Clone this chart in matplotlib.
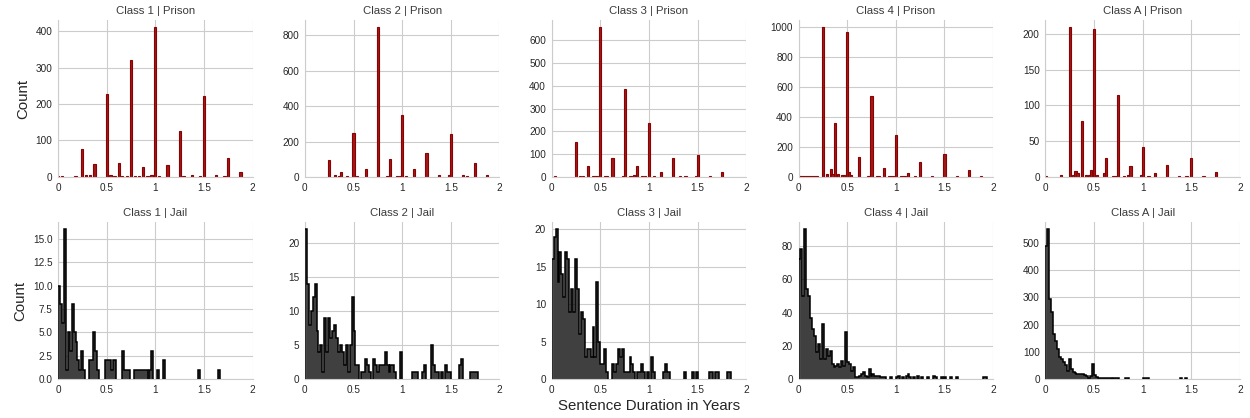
import numpy as np
import matplotlib
matplotlib.use("Agg")
from matplotlib import pyplot as plt
from matplotlib.ticker import MultipleLocator, FuncFormatter

# panel titles
classes = ['Class 1', 'Class 2', 'Class 3', 'Class 4', 'Class A']

# prison: spike positions (years) and counts
prison_x = [
    [0.0, 0.04, 0.18, 0.25, 0.29, 0.33, 0.375, 0.5, 0.54, 0.58, 0.625, 0.66, 0.71, 0.75, 0.79, 0.83,
     0.875, 0.92, 0.96, 1.0, 1.04, 1.125, 1.25, 1.29, 1.375, 1.46, 1.5, 1.625, 1.71, 1.75, 1.875],
    [0.25, 0.31, 0.35, 0.375, 0.43, 0.5, 0.54, 0.625, 0.75, 0.85, 0.875, 0.95, 0.98, 1.0, 1.04,
     1.125, 1.25, 1.375, 1.48, 1.5, 1.625, 1.67, 1.75, 1.875],
    [0.03, 0.25, 0.29, 0.32, 0.375, 0.43, 0.46, 0.5, 0.55, 0.57, 0.625, 0.73, 0.75, 0.81, 0.85,
     0.875, 0.93, 0.96, 1.0, 1.05, 1.125, 1.25, 1.32, 1.375, 1.48, 1.5, 1.625, 1.75],
    [0.01, 0.03, 0.05, 0.07, 0.09, 0.11, 0.13, 0.15, 0.17, 0.19, 0.25, 0.29, 0.33, 0.35, 0.375,
     0.41, 0.45, 0.47, 0.5, 0.52, 0.54, 0.625, 0.71, 0.73, 0.75, 0.81, 0.83, 0.875, 0.93, 0.95,
     0.97, 1.0, 1.05, 1.07, 1.09, 1.125, 1.2, 1.25, 1.375, 1.5, 1.625, 1.75, 1.875],
    [0.01, 0.16, 0.25, 0.29, 0.31, 0.33, 0.375, 0.42, 0.445, 0.47, 0.5, 0.53, 0.6, 0.625, 0.7,
     0.73, 0.75, 0.81, 0.855, 0.875, 0.98, 1.0, 1.06, 1.125, 1.25, 1.37, 1.45, 1.5, 1.625, 1.75],
]
prison_counts = [
    [3, 3, 3, 77, 5, 5, 35, 228, 5, 3, 38, 3, 3, 322, 3, 3, 27, 3, 5, 410, 3, 32, 125, 3, 5, 3,
     222, 5, 3, 53, 13],
    [98, 13, 8, 28, 8, 251, 5, 45, 845, 5, 104, 5, 5, 351, 5, 45, 138, 12, 12, 245, 10, 5, 77, 12],
    [5, 152, 5, 5, 48, 5, 5, 657, 5, 5, 85, 5, 387, 5, 10, 48, 5, 5, 239, 5, 22, 85, 5, 5, 5,
     95, 5, 22],
    [5, 5, 5, 5, 5, 5, 5, 5, 5, 5, 995, 20, 50, 20, 360, 20, 15, 15, 964, 35, 15, 133, 5, 5, 538,
     5, 5, 58, 5, 5, 5, 282, 5, 5, 5, 25, 5, 102, 8, 155, 8, 47, 8],
    [2, 3, 209, 3, 8, 5, 78, 3, 3, 10, 207, 3, 5, 27, 2, 2, 115, 2, 3, 15, 3, 42, 2, 6, 17, 2, 2,
     26, 2, 7],
]

# jail: counts per 0.02-year bin, starting at 0
jail_counts = [
    [10, 8, 6, 16, 1, 5, 3, 8, 5, 4, 2, 1, 3, 1, 0, 0, 2, 2, 5, 3,
     1, 0, 0, 0, 2, 2, 2, 1, 2, 2, 0, 0, 0, 3, 1, 1, 1, 0, 0, 1,
     1, 1, 1, 1, 1, 1, 0, 1, 3, 0, 0, 1, 0, 0, 2, 0, 0, 0, 0, 0,
     0, 0, 0, 0, 0, 0, 0, 0, 0, 0, 0, 0, 1, 0, 0, 0, 0, 0, 0, 0,
     0, 0, 1],
    [22, 14, 8, 10, 12, 14, 7, 4, 5, 1, 9, 4, 9, 6, 7, 8, 6, 4, 5, 4,
     2, 5, 1, 5, 12, 7, 2, 2, 0, 1, 1, 3, 2, 1, 0, 3, 2, 1, 2, 2,
     2, 4, 2, 1, 2, 2, 1, 0, 0, 4, 0, 0, 0, 0, 0, 1, 1, 1, 0, 0,
     1, 2, 0, 0, 0, 5, 2, 1, 1, 0, 1, 0, 2, 1, 1, 0, 0, 0, 0, 2,
     3, 0, 0, 0, 0, 1, 1, 1, 1],
    [16, 19, 20, 13, 17, 14, 11, 17, 16, 9, 12, 9, 16, 12, 6, 9, 8, 3, 4, 4,
     3, 7, 3, 13, 5, 2, 2, 4, 1, 0, 0, 2, 1, 2, 4, 3, 4, 1, 1, 1,
     3, 2, 1, 0, 1, 1, 2, 1, 0, 1, 0, 3, 1, 0, 0, 0, 0, 1, 2, 1,
     1, 0, 0, 0, 0, 0, 0, 0, 1, 0, 0, 0, 1, 0, 1, 0, 0, 0, 0, 0,
     0, 1, 1, 0, 1, 1, 0, 0, 0, 0, 1, 1],
    [72, 78, 50, 90, 54, 50, 37, 30, 26, 16, 21, 12, 33, 12, 18, 14, 17, 9, 7, 8,
     9, 7, 11, 8, 28, 10, 9, 5, 7, 1, 1, 2, 3, 4, 2, 1, 6, 2, 3, 2,
     2, 2, 1, 1, 1, 0, 0, 1, 0, 0, 1, 2, 0, 1, 0, 2, 3, 1, 0, 1,
     0, 2, 0, 1, 0, 0, 1, 0, 0, 2, 1, 0, 0, 1, 0, 1, 0, 0, 1, 0,
     0, 1, 0, 0, 0, 0, 0, 0, 0, 0, 0, 0, 0, 0, 0, 1, 1],
    [490, 550, 295, 245, 165, 138, 112, 80, 75, 62, 50, 28, 72, 35, 25, 22, 20, 20, 18, 18,
     15, 12, 5, 10, 55, 15, 8, 5, 5, 3, 3, 3, 2, 2, 0, 5, 5, 3, 0, 0,
     0, 5, 3, 0, 0, 0, 0, 0, 0, 0, 3, 5, 3, 0, 0, 0, 0, 0, 0, 0,
     0, 0, 0, 0, 0, 0, 0, 0, 0, 3, 0, 0, 3],
]
jail_bin = 0.02

prison_steps = [100, 200, 100, 200, 50]
jail_steps = [2.5, 5, 5, 20, 100]

plt.rcParams['font.family'] = ['Liberation Sans', 'DejaVu Sans']
text_col = '#262626'
title_col = '#3a3a3a'
grid_col = '#cccccc'

fig, axes = plt.subplots(2, 5, figsize=(12.5, 4.18), dpi=100)
plt.subplots_adjust(left=0.0464, right=0.992, bottom=0.0933, top=0.9522, wspace=0.268, hspace=0.287)

fmt = FuncFormatter(lambda v, p: '%g' % v)

for j in range(5):
    # top row: prison
    ax = axes[0, j]
    ax.bar(prison_x[j], prison_counts[j], width=0.022, color='#a01a1a', edgecolor='#8b0000',
           linewidth=0.8, zorder=2)
    ax.yaxis.set_major_locator(MultipleLocator(prison_steps[j]))
    ax.set_title(f'{classes[j]} | Prison', fontsize=8.2, color=title_col, pad=4)

    # bottom row: jail, filled step histogram with dark outline
    ax = axes[1, j]
    c = np.array(jail_counts[j], dtype=float)
    edges = np.arange(len(c) + 1) * jail_bin
    ax.stairs(c, edges, fill=True, color='#404040', zorder=2)
    # outline only over runs of non-empty bins
    nz = np.concatenate([[0], (c > 0).astype(int), [0]])
    starts = np.where(np.diff(nz) == 1)[0]
    ends = np.where(np.diff(nz) == -1)[0]
    for s, e in zip(starts, ends):
        ax.stairs(c[s:e], edges[s:e + 1], color='black', linewidth=1.1, zorder=3)
    ax.yaxis.set_major_locator(MultipleLocator(jail_steps[j]))
    ax.set_title(f'{classes[j]} | Jail', fontsize=8.2, color=title_col, pad=4)

for ax in axes.flat:
    ax.set_xlim(0, 2)
    ax.set_ylim(bottom=0)
    ax.set_xticks([0, 0.5, 1, 1.5, 2])
    ax.xaxis.set_major_formatter(fmt)
    ax.set_axisbelow(True)
    ax.grid(True, color=grid_col, linewidth=0.8)
    for s in ['top', 'right']:
        ax.spines[s].set_visible(False)
    for s in ['left', 'bottom']:
        ax.spines[s].set_color(grid_col)
        ax.spines[s].set_linewidth(0.8)
    ax.tick_params(length=0, labelsize=7.2, colors=text_col, pad=4)

axes[0, 0].set_ylabel('Count', fontsize=10.8, color=text_col)
axes[1, 0].set_ylabel('Count', fontsize=10.8, color=text_col)
axes[1, 2].set_xlabel('Sentence Duration in Years', fontsize=10.8, color=text_col, labelpad=3)

fig.savefig('out.png', dpi=100)
